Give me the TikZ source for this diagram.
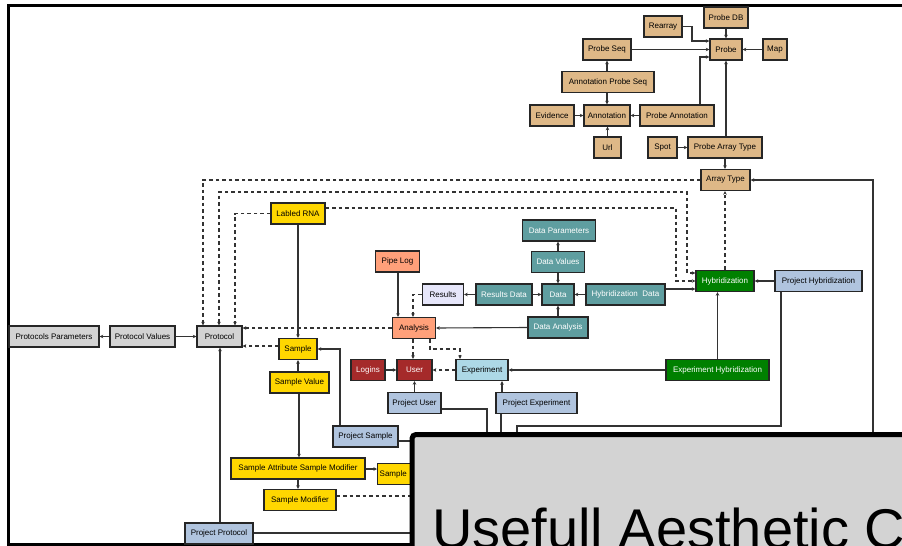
\documentclass[tikz,border=0pt]{standalone}
\usepackage{fontspec}
\setmainfont{Liberation Sans}
\usetikzlibrary{arrows.meta}
\definecolor{tanc}{HTML}{DEB887}
\definecolor{goldc}{HTML}{FFD700}
\definecolor{tealc}{HTML}{5F9EA0}
\definecolor{salmonc}{HTML}{FFA07A}
\definecolor{lavc}{HTML}{E6E6FA}
\definecolor{greenc}{HTML}{008000}
\definecolor{steelc}{HTML}{B0C4DE}
\definecolor{grayc}{HTML}{D3D3D3}
\definecolor{brownc}{HTML}{A52A2A}
\definecolor{lbluec}{HTML}{ADD8E6}
\definecolor{linec}{HTML}{333333}
\tikzset{
  box/.style={draw=black!85, line width=1.4pt, minimum height=21pt, inner sep=0pt,
    font=\fontsize{8}{9}\selectfont},
  tanbox/.style={box, fill=tanc},
  goldbox/.style={box, fill=goldc},
  tealbox/.style={box, fill=tealc, text=white},
  salmonbox/.style={box, fill=salmonc},
  lavbox/.style={box, fill=lavc},
  greenbox/.style={box, fill=greenc, text=white},
  steelbox/.style={box, fill=steelc},
  graybox/.style={box, fill=grayc},
  brownbox/.style={box, fill=brownc, text=white},
  lbluebox/.style={box, fill=lbluec},
  wire/.style={draw=linec, line width=1.1pt},
  conn/.style={wire, -{Stealth[length=3.5pt,width=3.5pt]}},
  dconn/.style={conn, dash pattern=on 3.5pt off 3pt},
  dboth/.style={wire, dash pattern=on 3.5pt off 3pt, {Stealth[length=3.5pt,width=3.5pt]}-{Stealth[length=3.5pt,width=3.5pt]}},
  dwire/.style={wire, dash pattern=on 3.5pt off 3pt},
  overlay/.style={draw=black, line width=5pt, fill=grayc, rounded corners=4pt}
}
\begin{document}
\begin{tikzpicture}[x=1pt,y=-1pt]
\useasboundingbox (0,0) rectangle (902,546);
\clip (0,0) rectangle (902,546);
\fill[white] (0,0) rectangle (902,546);
\draw[line width=3pt] (8.5,5.5) rectangle (960,544.5);

% ---- tan (probe) nodes
\node[tanbox, minimum width=44pt] (probedb) at (726,17.5) {Probe DB};
\node[tanbox, minimum width=38pt] (rearray) at (663,26.5) {Rearray};
\node[tanbox, minimum width=48pt] (probeseq) at (607,49.5) {Probe Seq};
\node[tanbox, minimum width=32pt] (probe) at (726,49.5) {Probe};
\node[tanbox, minimum width=24pt] (map) at (775,49.5) {Map};
\node[tanbox, minimum width=92pt] (annprobeseq) at (608,82) {Annotation Probe Seq};
\node[tanbox, minimum width=44pt] (evidence) at (552,115.5) {Evidence};
\node[tanbox, minimum width=46pt] (annotation) at (607,115.5) {Annotation};
\node[tanbox, minimum width=74pt] (probeann) at (677,115.5) {Probe Annotation};
\node[tanbox, minimum width=27pt] (url) at (607.5,147.5) {Url};
\node[tanbox, minimum width=29pt] (spot) at (662.5,147.5) {Spot};
\node[tanbox, minimum width=74pt] (probearraytype) at (725,147.5) {Probe Array Type};
\node[tanbox, minimum width=49pt] (arraytype) at (725.5,180) {Array Type};

% ---- yellow (sample) nodes
\node[goldbox, minimum width=54pt] (labledrna) at (298,213.5) {Labled RNA};
\node[goldbox, minimum width=38pt] (sample) at (298,349) {Sample};
\node[goldbox, minimum width=59pt] (samplevalue) at (299.5,382.5) {Sample Value};
\node[goldbox, minimum width=134pt] (sasm) at (298,468.5) {Sample Attribute Sample Modifier};
\node[goldbox, minimum width=72pt] (samplemod) at (300,500) {Sample Modifier};
\node[goldbox, anchor=west, text width=66pt, inner xsep=2pt, align=left] (sampleattr) at (377,474) {Sample};

% ---- teal (data) nodes
\node[tealbox, minimum width=73pt] (dataparam) at (559,230.5) {Data Parameters};
\node[tealbox, minimum width=53pt] (datavalues) at (558,262) {Data Values};
\node[tealbox, minimum width=32pt] (data) at (558,294.5) {Data};
\node[tealbox, minimum width=56pt] (resultsdata) at (504,294.5) {Results Data};
\node[tealbox, minimum width=79pt] (hybdata) at (625.5,294.5) {Hybridization \ Data};
\node[tealbox, minimum width=60pt] (dataanalysis) at (558,327.5) {Data Analysis};

% ---- analysis nodes
\node[salmonbox, minimum width=44pt] (pipelog) at (397.5,261.5) {Pipe Log};
\node[salmonbox, minimum width=43pt] (analysis) at (414,328) {Analysis};
\node[lavbox, minimum width=41pt] (results) at (443,294.5) {Results};

% ---- hybridization nodes
\node[greenbox, minimum width=58pt] (hybridization) at (725,281) {Hybridization};
\node[greenbox, minimum width=103pt] (exphyb) at (717.5,370) {Experiment Hybridization};

% ---- project nodes
\node[steelbox, minimum width=87pt] (projhyb) at (818.5,281) {Project Hybridization};
\node[steelbox, minimum width=53pt] (projuser) at (414.5,403) {Project User};
\node[steelbox, minimum width=81pt] (projexp) at (536.5,403) {Project Experiment};
\node[steelbox, minimum width=65pt] (projsample) at (365.5,436.5) {Project Sample};
\node[steelbox, minimum width=68pt] (projprotocol) at (219,533.5) {Project Protocol};

% ---- user / experiment
\node[brownbox, minimum width=35pt] (user) at (414.5,370) {User};
\node[brownbox, minimum width=34pt] (logins) at (368,370) {Logins};
\node[lbluebox, minimum width=52pt] (experiment) at (482,370) {Experiment};

% ---- protocol nodes
\node[graybox, minimum width=90pt] (protparams) at (54,336.5) {Protocols Parameters};
\node[graybox, minimum width=65pt] (protvalues) at (142.5,336.5) {Protocol Values};
\node[graybox, minimum width=45pt] (protocol) at (219.5,336.5) {Protocol};

% ---- connectors: probe area
\draw[conn] (rearray.east) -- (692,26.5) -- (692,41) -- (probe.west |- 0,41);
\draw[conn] (probedb.south) -- (probe.north);
\draw[conn] (map.west) -- (probe.east);
\draw[conn] (probeseq.east) -- (probe.west);
\draw[conn] (probeann.north -| 700,0) -- (700,57) -- (probe.west |- 0,57);
\draw[conn] (annprobeseq.north -| probeseq.south) -- (probeseq.south);
\draw[conn] (annprobeseq.south -| annotation.north) -- (annotation.north);
\draw[conn] (evidence.east) -- (annotation.west);
\draw[conn] (probeann.west) -- (annotation.east);
\draw[conn] (url.north) -- (annotation.south -| url.north);
\draw[conn] (spot.east) -- (probearraytype.west);
\draw[conn] (probearraytype.north -| probe.south) -- (probe.south);
\draw[conn] (probearraytype.south) -- (arraytype.north -| probearraytype.south);

% ---- dashed loops to protocol / hybridization
\draw[dconn] (arraytype.west) -- (203,180) -- (protocol.north -| 203,0);
\draw[dboth] (hybridization.west |- 0,273) -- (687,273) -- (687,192) -- (219,192) -- (protocol.north -| 219,0);
\draw[dconn] (labledrna.east |- 0,208) -- (676,208) -- (676,281) -- (hybridization.west |- 0,281);
\draw[dconn] (labledrna.west) -- (235,213.5) -- (protocol.north -| 235,0);
\draw[dconn] (analysis.west) -- (protocol.east |- 0,328);
\draw[dconn] (sample.west |- 0,346) -- (protocol.east |- 0,346);
\draw[dconn] (hybridization.north) -- (arraytype.south -| hybridization.north);

% ---- sample chain
\draw[conn] (labledrna.south) -- (sample.north);
\draw[conn] (samplevalue.north -| sample.south) -- (sample.south);
\draw[conn] (samplevalue.south -| 299,0) -- (sasm.north -| 299,0);
\draw[conn] (sasm.south) -- (samplemod.north -| sasm.south);
\draw[conn] (sasm.east |- 0,469) -- (sampleattr.west |- 0,469);
\draw[conn] (projsample.north -| 340,0) -- (340,349) -- (sample.east);
\coordinate (psend) at (415,441);
\draw[wire] (projsample.east |- psend) -- (psend);
\coordinate (smend) at (415,496);
\draw[dwire] (samplemod.east |- smend) -- (smend);

% ---- analysis / data
\draw[conn] (pipelog.south -| 398,0) -- (analysis.north -| 398,0);
\draw[dconn] (results.west) -- (413,294.5) -- (analysis.north -| 413,0);
\draw[conn] (resultsdata.west) -- (results.east);
\draw[conn] (resultsdata.east) -- (data.west);
\draw[conn] (hybdata.west) -- (data.east);
\draw[conn] (datavalues.south) -- (data.north);
\draw[conn] (datavalues.north) -- (dataparam.south -| datavalues.north);
\draw[conn] (dataanalysis.north) -- (data.south);
\draw[conn] (dataanalysis.west) -- (analysis.east);
\draw[conn] (hybdata.east |- 0,289) -- (hybridization.west |- 0,289);
\draw[conn] (projhyb.west) -- (hybridization.east);
\draw[conn] (exphyb.north) -- (hybridization.south -| exphyb.north);
\draw[conn] (exphyb.west) -- (experiment.east);

% ---- user / experiment
\draw[conn] (projexp.north -| 502,0) -- (experiment.south -| 502,0);
\draw[conn] (projuser.north) -- (user.south -| projuser.north);
\draw[conn] (logins.east) -- (user.west);
\draw[dconn] (experiment.west) -- (user.east);
\draw[dconn] (analysis.south -| 413,0) -- (user.north -| 413,0);
\draw[dconn] (analysis.south -| 430,0) -- (430,349) -- (460,349) -- (experiment.north -| 460,0);
\coordinate (peend) at (501,440);
\draw[wire] (projexp.south -| peend) -- (peend);
\coordinate (puend) at (487,440);
\draw[wire] (projuser.east |- 0,409) -- (487,409) -- (puend);
\coordinate (phend) at (517,440);
\draw[wire] (projhyb.south -| 781,0) -- (781,426) -- (517,426) -- (phend);
\coordinate (atend) at (873,440);
\draw[conn] (atend) -- (873,180) -- (arraytype.east);

% ---- protocol
\draw[conn] (protvalues.east) -- (protocol.west);
\draw[conn] (protvalues.west) -- (protparams.east);
\draw[conn] (projprotocol.north -| 220,0) -- (protocol.south -| 220,0);
\coordinate (ppend) at (415,533);
\draw[wire] (projprotocol.east |- ppend) -- (ppend);

% ---- overlay panel
\draw[overlay] (412,434.5) rectangle (940,580);
\node[anchor=base west, inner sep=0pt, font=\fontsize{56}{60}\selectfont] (title) at (432,548) {Usefull Aesthetic C};
\end{tikzpicture}
\end{document}
